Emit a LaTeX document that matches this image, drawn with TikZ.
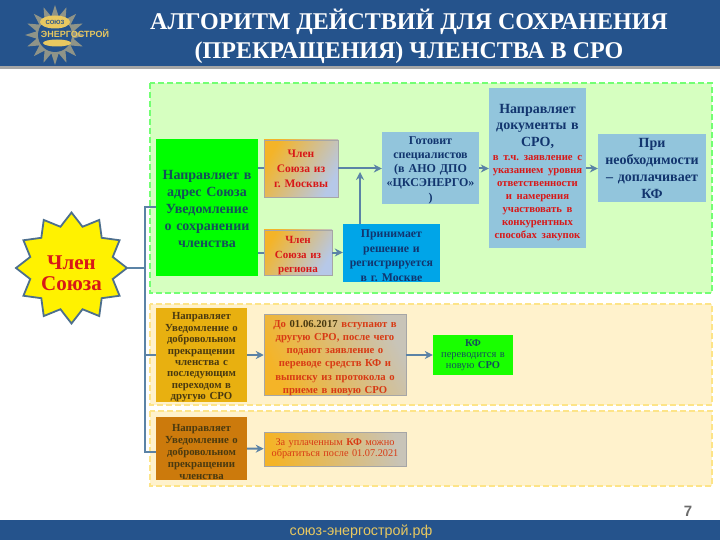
\documentclass[tikz,border=0pt]{standalone}
\usepackage{fontspec}
\setmainfont{Liberation Serif}
\setsansfont{Liberation Sans}
\usetikzlibrary{arrows.meta,shapes.geometric}
\definecolor{barblue}{HTML}{25538C}
\definecolor{linkblue}{HTML}{5B83A6}
\definecolor{inkgreen}{HTML}{14505A}
\definecolor{inkblue}{HTML}{12356E}
\definecolor{inkred}{HTML}{D81818}
\definecolor{inkorange}{HTML}{D83A14}
\definecolor{inkbrown}{HTML}{4A3A10}
\definecolor{panelgreen}{HTML}{D6FFC0}
\definecolor{panelyellow}{HTML}{FFF2CC}
\definecolor{boxsky}{HTML}{92C5DC}
\definecolor{boxcyan}{HTML}{00A5E8}
\definecolor{boxgold}{HTML}{E8B010}
\definecolor{boxrust}{HTML}{CC7A0C}
\definecolor{logosun}{HTML}{8F9488}
\definecolor{logogold}{HTML}{E8C860}
\definecolor{fadestart}{HTML}{F4B428}
\definecolor{fadesky}{HTML}{B6C8E8}
\definecolor{fadestone}{HTML}{C8C4B8}
\newcommand{\lift}[1]{\rule{0pt}{#1pt}}
\begin{document}
\frenchspacing
\begin{tikzpicture}[x=1pt,y=-1pt,
    panelg/.style={fill=panelgreen,draw=green!55!white,dashed,line width=1.2pt,dash pattern=on 6pt off 3pt},
    panely/.style={fill=panelyellow,draw=yellow!60!orange!45!white,dashed,line width=1.2pt,dash pattern=on 6pt off 3pt},
    box/.style={inner sep=0pt,align=center},
    fadegrey/.style={box,left color=fadestart,right color=fadestone,shading angle=#1,draw=gray!70,line width=.5pt},
    fadeblue/.style={box,left color=fadestart,right color=fadesky,shading angle=#1,draw=gray!70,line width=.5pt},
    link/.style={draw=linkblue,line width=2pt},
    arrow/.style={link,-{Stealth[length=8pt,width=8pt]}}]
  \useasboundingbox (0,0) rectangle (720,540);
  % bars
  \fill[black!35] (0,66) rectangle (720,69);
  \fill[barblue] (0,0) rectangle (720,66);
  \fill[barblue] (0,520) rectangle (720,540);
  % logo
  \node[star,star points=16,star point ratio=1.6,minimum size=60pt,inner sep=0pt,fill=logosun] (sun) at (55,35) {};
  \node[circle,minimum size=34pt,inner sep=0pt,fill=barblue] (disc) at (55,35) {};
  \node[ellipse,minimum width=30pt,minimum height=13pt,inner sep=0pt,fill=logogold,text=barblue,font=\sffamily\bfseries\fontsize{6}{6}\selectfont] (union) at (55,22) {СОЮЗ};
  \node[ellipse,minimum width=28pt,minimum height=7pt,inner sep=0pt,fill=logogold] (land) at (57,43) {};
  \node[inner sep=0pt,text=logogold,font=\sffamily\bfseries\fontsize{9}{9}\selectfont] (brand) at (75,33) {ЭНЕРГОСТРОЙ};
  \node[inner sep=0pt,text=white,align=center,font=\fontsize{24}{29.5}\selectfont\bfseries] (title) at (409,36.5) {АЛГОРИТМ ДЕЙСТВИЙ ДЛЯ СОХРАНЕНИЯ\\(ПРЕКРАЩЕНИЯ) ЧЛЕНСТВА В СРО};
  \node[inner sep=0pt,text=logogold,font=\sffamily\fontsize{14.3}{15}\selectfont] (site) at (361,532) {союз-энергострой.рф};
  \node[inner sep=0pt,text=gray!85!black,font=\sffamily\bfseries\fontsize{15}{15}\selectfont] (page) at (688,511) {7};
  % panels
  \draw[panelg] (150,83) rectangle (712,293);
  \draw[panely] (150,304) rectangle (712,405);
  \draw[panely] (150,411) rectangle (712,486);
  % nodes
  \node[star,star points=12,star point ratio=1.3,minimum size=111pt,inner sep=0pt,fill=yellow,draw=linkblue!85!black,line width=1.8pt] (member) at (71.5,268) {};
  \node[inner sep=0pt,align=center,text=inkred,font=\fontsize{21}{21}\selectfont\bfseries] (memberlabel) at (71.5,273) {Член\\Союза};
  \node[box,fill=green,text=inkgreen,text width=102pt,minimum height=137pt,font=\fontsize{14}{17}\selectfont\bfseries] (notice) at (207,207.5) {\lift{12}Направляет в\\адрес Союза\\Уведомление\\о сохранении\\членства};
  \node[fadeblue=60,text=inkred,text width=74pt,minimum height=57pt,font=\fontsize{11.5}{15}\selectfont\bfseries] (moscow) at (301,168.5) {Член\\Союза из\\г. Москвы};
  \node[fadeblue=60,text=inkred,text width=68pt,minimum height=45pt,font=\fontsize{11}{14.5}\selectfont\bfseries] (region) at (298,252.5) {\lift{14}Член\\Союза из\\региона};
  \node[box,fill=boxcyan,text=inkblue,text width=97pt,minimum height=58pt,font=\fontsize{11.8}{14.4}\selectfont\bfseries] (accept) at (391.5,253) {\lift{13}Принимает\\решение и\\регистрируется\\в г. Москве};
  \node[box,fill=boxsky,text=inkblue,text width=97pt,minimum height=68pt,font=\fontsize{12}{14.2}\selectfont\bfseries] (train) at (430.5,168) {\lift{12}Готовит\\специалистов\\(в АНО ДПО\\«ЦКСЭНЕРГО»\\)};
  \node[box,fill=boxsky,text=inkblue,text width=97pt,minimum height=160pt,font=\fontsize{14}{16.5}\selectfont\bfseries] (docs) at (537.5,168) {\lift{18}Направляет\\документы в\\СРО,\\[1pt]\color{inkred}\fontsize{10.7}{13}\selectfont в т.ч. заявление с\\указанием уровня\\ответственности\\и намерения\\участвовать в\\конкурентных\\способах закупок\par};
  \node[box,fill=boxsky,text=inkblue,text width=108pt,minimum height=68pt,font=\fontsize{14}{17}\selectfont\bfseries] (extra) at (652,168) {При\\необходимости\\– доплачивает\\КФ};
  \node[box,fill=boxgold,text=inkbrown,text width=91pt,minimum height=92pt,font=\fontsize{10.8}{11.4}\selectfont\bfseries] (leave) at (201.5,355) {\lift{12}Направляет\\Уведомление о\\добровольном\\прекращении\\членства  с\\последующим\\переходом в\\другую СРО};
  \node[fadegrey=115,text=inkorange,text width=142pt,minimum height=80pt,font=\fontsize{10.7}{13.2}\selectfont\bfseries] (join) at (335,355) {\lift{13}До {\color{inkbrown}01.06.2017} вступают в\\другую СРО, после чего\\подают заявление о\\переводе средств КФ и\\выписку из протокола о\\приеме в новую СРО};
  \node[box,fill=green!90!yellow,text=inkgreen,text width=80pt,minimum height=40pt,font=\fontsize{10.5}{10.7}\selectfont] (fund) at (473,355) {\textbf{КФ}\\переводится в\\новую \textbf{СРО}};
  \node[box,fill=boxrust,text=inkbrown,text width=91pt,minimum height=63pt,font=\fontsize{10.8}{12}\selectfont\bfseries] (quit) at (201.5,448.5) {\lift{15}Направляет\\Уведомление о\\добровольном\\прекращении\\членства};
  \node[fadegrey=100,text=inkorange,text width=142pt,minimum height=34pt,font=\fontsize{10.3}{11}\selectfont] (refund) at (335,449) {За уплаченным \textbf{КФ} можно\\обратиться после 01.07.2021};
  % junctions
  \coordinate (bus) at (145,268);
  \coordinate (bustop) at (145,207.5);
  \coordinate (busmid) at (145,355);
  \coordinate (busend) at (145,452);
  \coordinate (joint) at (360,168.5);
  \coordinate (riser) at (360,172);
  % links
  \draw[link] (member.east) -- (bus);
  \draw[link] (notice.west) -- (bustop) -- (busend) -- (quit.west |- busend);
  \draw[link] (busmid) -- (leave.west);
  \draw[link] (notice.east |- moscow) -- (moscow.west);
  \draw[link] (notice.east |- region) -- (region.west);
  \foreach \a/\b in {moscow/train,train/docs,docs/extra}{\draw[arrow] (\a.east |- joint) -- (\b.west |- joint);}
  \draw[arrow] (region.east) -- (accept.west |- region);
  \draw[arrow] (accept.north -| riser) -- (riser);
  \foreach \a/\b in {leave/join,join/fund,quit/refund}{\draw[arrow] (\a) -- (\b);}
\end{tikzpicture}
\end{document}
